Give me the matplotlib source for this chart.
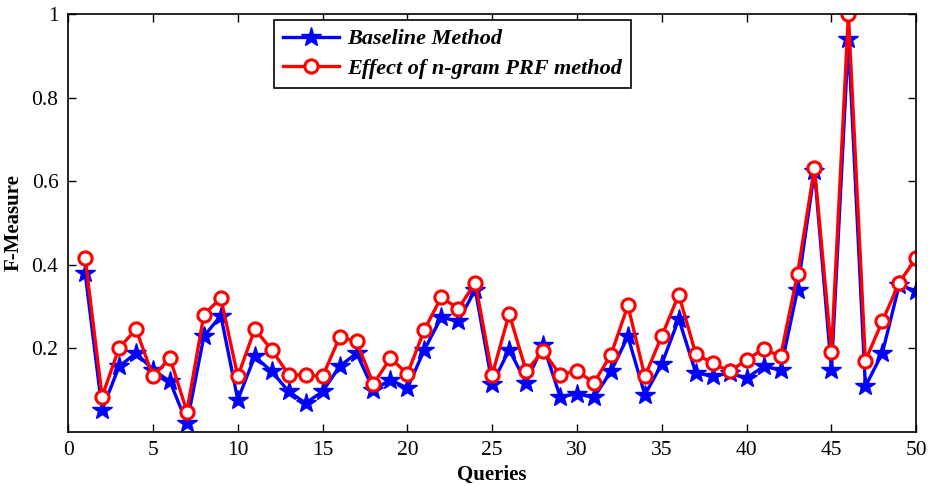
import matplotlib
matplotlib.use('Agg')

import matplotlib.pyplot as plt
import numpy

# query ids
queries = numpy.arange(1, 51)

# F-measure, baseline
baseline = [0.380, 0.052, 0.156, 0.188, 0.148, 0.120, 0.020, 0.228, 0.278, 0.076,
            0.180, 0.144, 0.096, 0.068, 0.096, 0.156, 0.188, 0.100, 0.124, 0.104,
            0.196, 0.274, 0.264, 0.340, 0.114, 0.196, 0.117, 0.208, 0.084, 0.090,
            0.082, 0.144, 0.228, 0.088, 0.162, 0.270, 0.141, 0.132, 0.140, 0.128,
            0.156, 0.148, 0.340, 0.624, 0.148, 0.940, 0.108, 0.188, 0.352, 0.336]

# F-measure, n-gram PRF
ngram_prf = [0.416, 0.084, 0.200, 0.245, 0.132, 0.176, 0.048, 0.280, 0.320, 0.132,
             0.245, 0.196, 0.136, 0.136, 0.132, 0.226, 0.216, 0.114, 0.176, 0.138,
             0.244, 0.322, 0.294, 0.357, 0.136, 0.282, 0.145, 0.193, 0.136, 0.145,
             0.117, 0.184, 0.302, 0.132, 0.229, 0.328, 0.186, 0.164, 0.144, 0.172,
             0.198, 0.180, 0.378, 0.632, 0.190, 1.000, 0.170, 0.264, 0.357, 0.416]

xticks = [0, 5, 10, 15, 20, 25, 30, 35, 40, 45, 50]
yticks = [0.2, 0.4, 0.6, 0.8, 1.0]
ytickLabels = ['0.2', '0.4', '0.6', '0.8', '1']

plt.rcParams['font.family'] = 'Liberation Serif'

fig = plt.figure(figsize=(9.34, 4.86), dpi=100)
ax = fig.add_axes([0.073, 0.112, 0.908, 0.859])

ax.plot(queries, baseline, color='blue', linewidth=2.4, marker='*',
        markersize=15, markeredgewidth=1, label='Baseline Method')
ax.plot(queries, ngram_prf, color='red', linewidth=2.4, marker='o',
        markersize=9.5, markeredgewidth=2.2, markerfacecolor='white',
        label='Effect of n-gram PRF method')

ax.set_xlim(0, 50)
ax.set_ylim(0, 1)
ax.set_xticks(xticks)
ax.set_yticks(yticks)
ax.set_yticklabels(ytickLabels)
ax.tick_params(direction='in', top=True, right=True, length=6, width=1,
               labelsize=15.5, pad=7)
for s in ax.spines.values():
  s.set_linewidth(1.2)

ax.set_xlabel('Queries', fontsize=15, fontweight='bold', labelpad=3)
ax.set_ylabel('F-Measure', fontsize=15, fontweight='bold', labelpad=6)

leg = ax.legend(loc='upper left', bbox_to_anchor=(0.243, 0.986),
                prop={'family': 'Liberation Serif', 'style': 'italic',
                      'weight': 'bold', 'size': 16},
                handlelength=2.5, handletextpad=0.4, borderpad=0.4,
                labelspacing=0.4, fancybox=False, framealpha=1,
                edgecolor='black', borderaxespad=0)
leg.get_frame().set_linewidth(1.2)

plt.savefig('out.png', dpi=100)
plt.close()
